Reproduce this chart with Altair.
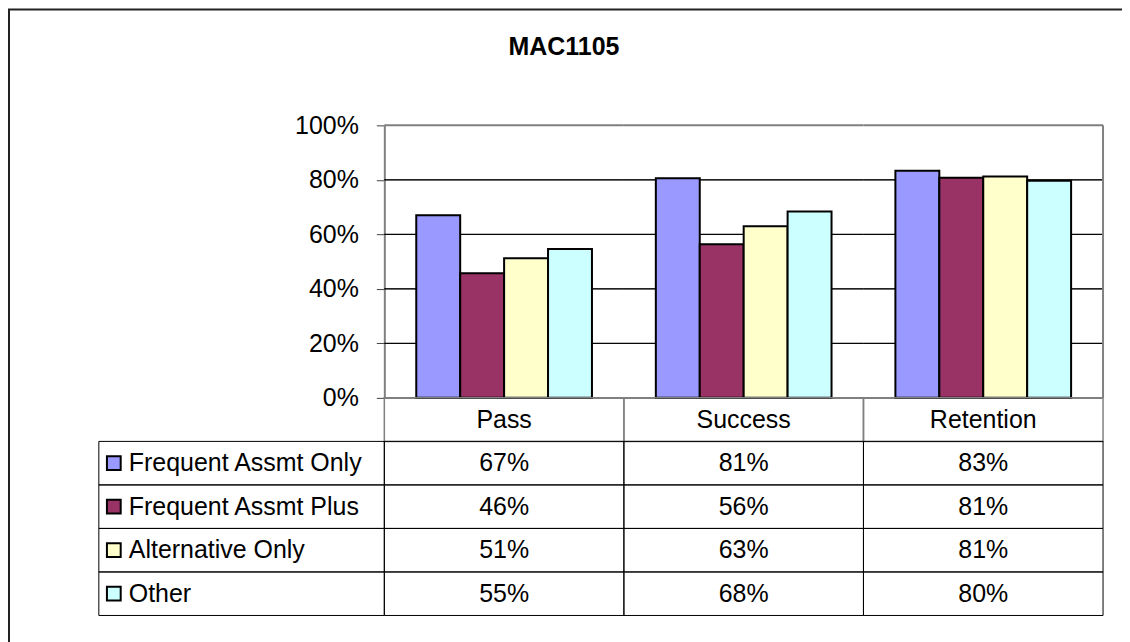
import altair as alt
import pandas as pd

# ---- data ----
categories = ["Pass", "Success", "Retention"]
series = ["Frequent Assmt Only", "Frequent Assmt Plus", "Alternative Only", "Other"]
colors = ["#9999FF", "#993366", "#FFFFCC", "#CCFFFF"]
freq_only = [0.670, 0.806, 0.833]
freq_plus = [0.457, 0.564, 0.808]
alternative_only = [0.512, 0.630, 0.812]
other = [0.546, 0.684, 0.797]
y_ticks = [0.0, 0.2, 0.4, 0.6, 0.8, 1.0]
grid_values = [0.2, 0.4, 0.6, 0.8]
chart_title = "MAC1105"
header_key = "header"

FONT = "Liberation Sans"
FS = 25
W, H = 1006, 491          # plot group (legend column + plot + table)
PLOT_H = 273              # height of the bar area
LEG_W = 286               # width of the legend column

rows = []
for s, vals in zip(series, [freq_only, freq_plus, alternative_only, other]):
    for c, v in zip(categories, vals):
        rows.append({"series": s, "cat": c, "value": v})
df = pd.DataFrame(rows)

grid_df = pd.DataFrame([{"cat": c, "v": v} for c in categories for v in grid_values])
base_df = pd.DataFrame([{"cat": c, "v": 0.0} for c in categories])
top_df = pd.DataFrame([{"cat": c, "v": 1.0} for c in categories])
right_df = pd.DataFrame([{"cat": categories[-1], "lo": 0.0, "hi": 1.0}])
header_df = pd.DataFrame([{"cat": c, "row": header_key} for c in categories])
legend_df = pd.DataFrame([{"row": s, "series": s} for s in series])
frame_df = pd.DataFrame([{"k": 1}])
title_df = pd.DataFrame([{"t": chart_title}])

x_scale = alt.Scale(domain=categories, range=[LEG_W, W], paddingInner=0, paddingOuter=0)
y_scale = alt.Scale(domain=[0, 1], range=[PLOT_H, 0])
row_scale = alt.Scale(domain=[header_key] + series, range=[PLOT_H, H], paddingInner=0, paddingOuter=0)
color_scale = alt.Scale(domain=series, range=colors)

X = alt.X("cat:N", scale=x_scale, axis=None, sort=categories)
Y_AXIS = alt.Axis(values=y_ticks, format=".0%", offset=-LEG_W, grid=False, title=None,
                  tickSize=8, tickColor="#404040", tickWidth=1,
                  domainColor="#808080", domainWidth=2,
                  labelFont=FONT, labelFontSize=FS, labelColor="black",
                  labelPadding=18)

# ---- plot part ----
grid = alt.Chart(grid_df).mark_rect(fill="transparent", stroke="black", strokeWidth=1).encode(
    x=X, y=alt.Y("v:Q", scale=y_scale, axis=Y_AXIS), y2=alt.Y2("v:Q"))
topline = alt.Chart(top_df).mark_rect(fill="transparent", stroke="#808080", strokeWidth=2).encode(
    x=X, y=alt.Y("v:Q", scale=y_scale, axis=Y_AXIS), y2=alt.Y2("v:Q"))
baseline = alt.Chart(base_df).mark_rect(fill="transparent", stroke="black", strokeWidth=1.5).encode(
    x=X, y=alt.Y("v:Q", scale=y_scale, axis=Y_AXIS), y2=alt.Y2("v:Q"))
rightline = alt.Chart(right_df).mark_rule(color="#808080", strokeWidth=2).encode(
    x=alt.X("cat:N", scale=x_scale, axis=None, bandPosition=1),
    y=alt.Y("lo:Q", scale=y_scale, axis=Y_AXIS), y2=alt.Y2("hi:Q"))

bars = alt.Chart(df).mark_bar(stroke="black", strokeWidth=2, opacity=1).encode(
    x=X,
    xOffset=alt.XOffset("series:N", sort=series,
                        scale=alt.Scale(domain=series, paddingInner=0, paddingOuter=0.727)),
    y=alt.Y("value:Q", scale=y_scale, axis=Y_AXIS),
    color=alt.Color("series:N", scale=color_scale, legend=None),
)

title_mark = alt.Chart(title_df).mark_text(font=FONT, fontSize=FS, fontWeight="bold", color="black",
                                           align="center", baseline="alphabetic").encode(
    x=alt.value(466), y=alt.value(-70), text="t:N")

plot_group = alt.layer(grid, topline, rightline, bars, baseline)

# ---- data table ----
ROW = alt.Y("row:N", scale=row_scale, axis=None)
header_cells = alt.Chart(header_df).mark_rect(fill="transparent", stroke="#808080", strokeWidth=1.5).encode(
    x=X, y=ROW)
header_text = alt.Chart(header_df).mark_text(font=FONT, fontSize=FS, color="black", baseline="middle").encode(
    x=X, y=ROW, text="cat:N")
data_cells = alt.Chart(df).transform_calculate(row="datum.series").mark_rect(
    fill="transparent", stroke="black", strokeWidth=1).encode(x=X, y=ROW)
data_text = alt.Chart(df).transform_calculate(row="datum.series").mark_text(
    font=FONT, fontSize=FS, color="black", baseline="middle").encode(
    x=X, y=ROW, text=alt.Text("value:Q", format=".0%"))
legend_cells = alt.Chart(legend_df).mark_rect(fill="transparent", stroke="black", strokeWidth=1).encode(
    x=alt.value(0), x2=alt.value(LEG_W), y=ROW)
legend_swatch = alt.Chart(legend_df).mark_square(size=190, opacity=1, stroke="black", strokeWidth=2).encode(
    x=alt.value(15), y=ROW, color=alt.Color("series:N", scale=color_scale, legend=None))
legend_text = alt.Chart(legend_df).mark_text(font=FONT, fontSize=FS, color="black", align="left",
                                             baseline="middle").encode(
    x=alt.value(30), y=ROW, text="series:N")
# outer chart border: only its top and left edges are inside the picture
outer_frame = alt.Chart(frame_df).mark_rect(fill="transparent", stroke="#222222", strokeWidth=2).encode(
    x=alt.value(-90), x2=alt.value(W + 60), y=alt.value(-116), y2=alt.value(H + 60))

table_group = alt.layer(header_cells, data_cells, legend_cells, header_text, data_text,
                        legend_swatch, legend_text, outer_frame, title_mark)

chart = alt.layer(plot_group, table_group).resolve_scale(y="independent").properties(
    width=W, height=H,
    background="white",
    autosize=alt.AutoSizeParams(type="none"),
    padding={"left": 91, "top": 117, "right": 19, "bottom": 26},
).configure_view(stroke="transparent", strokeWidth=0)

chart.save("out.html", embed_options={"renderer": "svg", "actions": False})
